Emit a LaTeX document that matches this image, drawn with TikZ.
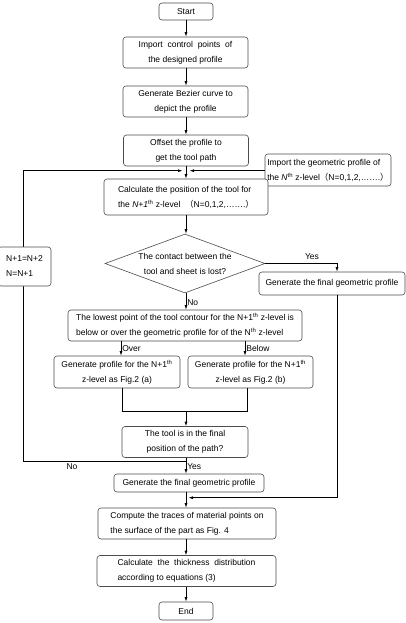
\documentclass[tikz,border=0pt]{standalone}
\usepackage{fontspec}
\setmainfont{Liberation Sans}
\newfontfamily\cjk{Noto Sans CJK SC}
\usetikzlibrary{shapes.geometric,arrows.meta}
\begin{document}
\begin{tikzpicture}[x=1pt,y=-1pt,
  font=\fontsize{8.5}{15}\selectfont,
  box/.style={draw=black!70, line width=0.6pt, rounded corners=3pt, fill=white, inner sep=0pt, align=center},
  lbox/.style={box, align=left},
  conn/.style={line width=0.7pt, draw=black},
  arr/.style={conn, -{Latex[length=4.5pt,width=3pt]}},
  lab/.style={inner sep=1pt, font=\fontsize{8.5}{9}\selectfont}]
\useasboundingbox (0,0) rectangle (406,623);

\node[box, minimum width=54pt, minimum height=17pt] (start) at (186,11.5) {Start};
\node[box, minimum width=125pt, minimum height=31pt] (imp) at (185.5,52.5) {Import\ \ control\ \ points\ \ of\\the designed profile};
\node[box, minimum width=125pt, minimum height=31pt] (bez) at (185.5,101.5) {Generate Bezier curve to\\depict the profile};
\node[box, minimum width=125pt, minimum height=31pt] (off) at (186,150.5) {Offset the profile to\\get the tool path};
\node[lbox, minimum width=126pt, minimum height=32pt] (impN) at (328,170) {Import the geometric profile of\\the \textit{N}\textsuperscript{th} z-level{\cjk （}N=0,1,2,…….{\cjk ）}};
\node[lbox, minimum width=164pt, minimum height=36pt] (calc) at (186,197) {Calculate the position of the tool for\\the \textit{N+1}\textsuperscript{th} z-level\ \ {\cjk （}N=0,1,2,…….{\cjk ）}};
\node[draw=black!70, line width=0.6pt, fill=white, diamond, aspect=2.7, minimum width=160pt, minimum height=59pt, inner sep=0pt, align=center] (dec) at (185,263.5) {The contact between the\\tool and sheet is lost?};
\node[box, minimum width=146pt, minimum height=23pt] (genR) at (332,283.5) {Generate the final geometric profile};
\node[lbox, minimum width=234pt, minimum height=31pt] (low) at (185,325.5) {The lowest point of the tool contour for the N+1\textsuperscript{th} z-level is\\below or over the geometric profile for of the N\textsuperscript{th} z-level};
\node[box, minimum width=126pt, minimum height=32pt] (genA) at (117,372) {Generate profile for the N+1\textsuperscript{th}\\z-level as Fig.2 (a)};
\node[box, minimum width=125pt, minimum height=32pt] (genB) at (250.5,372) {Generate profile for the N+1\textsuperscript{th}\\z-level as Fig.2 (b)};
\node[box, minimum width=126pt, minimum height=31pt] (tool) at (185,442) {The tool is in the final\\position of the path?};
\node[box, minimum width=150pt, minimum height=18pt] (genF) at (189,483) {Generate the final geometric profile};
\node[lbox, minimum width=178pt, minimum height=31pt] (comp) at (187,523.5) {Compute the traces of material points on\\the surface of the part as Fig. 4};
\node[lbox, minimum width=179pt, minimum height=31pt] (thick) at (186.5,571) {Calculate\ \ the\ \ thickness\ \ distribution\\according to equations (3)};
\node[box, minimum width=54pt, minimum height=18pt] (end) at (186,611) {End};

% coordinates
\coordinate (J) at (186,170.7);
\coordinate (JL) at (182.5,170.7);
\coordinate (JR) at (189.5,170.7);
\coordinate (LT) at (23,170.7);
\coordinate (LB) at (23,461.7);
\coordinate (NB) at (186,461.7);
\coordinate (RC) at (337,263.5);
\coordinate (RB) at (337,497.7);
\coordinate (RE) at (188.5,497.7);
\coordinate (M) at (186,411);
\coordinate (ML) at (122,411);
\coordinate (MR) at (247,411);

\draw[arr] (start.south -| J) -- (imp.north -| J);
\draw[arr] (imp.south -| J) -- (bez.north -| J);
\draw[arr] (bez.south -| J) -- (off.north -| J);
\draw[arr] (off.south -| J) -- (calc.north -| J);
\draw[arr] (NB) -- (LB) -- (LT) -- (JL);
\draw[arr] (impN.west |- J) -- (JR);
\draw[arr] (calc.south -| J) -- (dec.north -| J);
\draw[arr] (dec.east) -- (RC) -- (genR.north -| RC);
\draw[arr] (genR.south -| RC) -- (RB) -- (RE);
\draw[arr] (dec.south -| J) -- node[lab, right, pos=0.55]{No} (low.north -| J);
\draw[arr] (low.south -| 121,0) -- node[lab, right, pos=0.5]{Over} (genA.north -| 121,0);
\draw[arr] (low.south -| 245,0) -- node[lab, right, pos=0.5]{Below} (genB.north -| 245,0);
\draw[conn] (genA.south -| ML) -- (ML) -- (MR) -- (genB.south -| MR);
\draw[arr] (M) -- (tool.north -| J);
\draw[arr] (tool.south -| J) -- node[lab, right, pos=0.55]{Yes} (genF.north -| J);
\draw[arr] (genF.south -| J) -- (comp.north -| J);
\draw[arr] (comp.south -| J) -- (thick.north -| J);
\draw[arr] (thick.south -| J) -- (end.north -| J);

\node[box, lbox, minimum width=53pt, minimum height=39pt, inner xsep=3pt] (nbox) at (24.5,266.5) {N+1=N+2\\N=N+1};
\node[lab] (yes) at (312,257) {Yes};
\node[lab] (no) at (72,466.5) {No};
\end{tikzpicture}
\end{document}
